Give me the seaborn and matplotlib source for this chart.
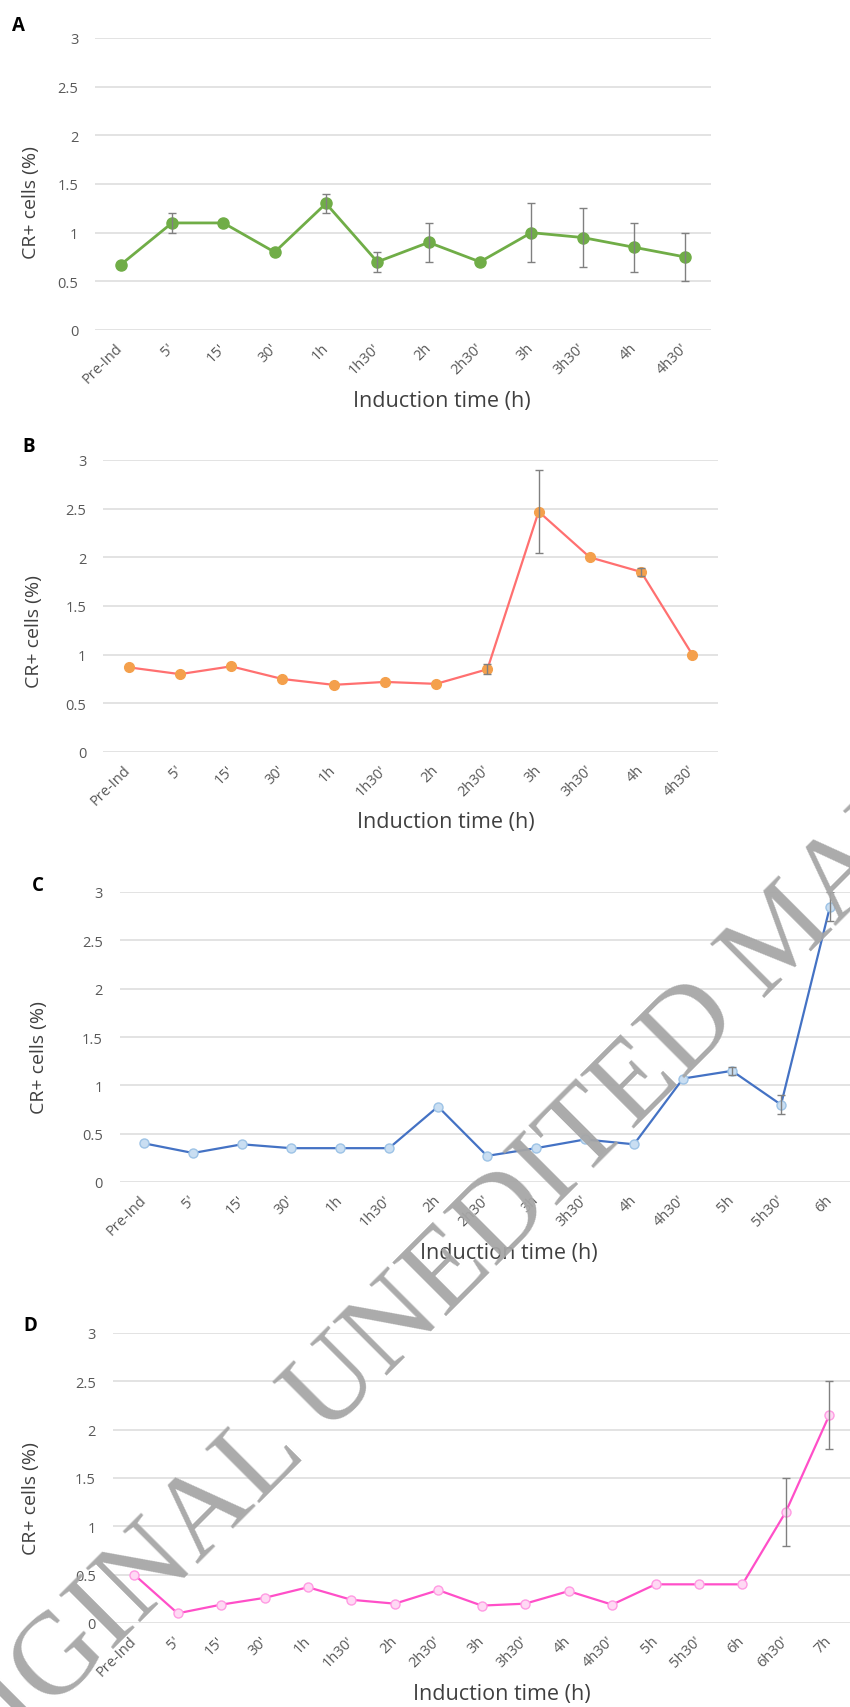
import numpy as np
import pandas as pd
import seaborn as sns
import matplotlib.pyplot as plt

# figure size in pixels (dpi 100)
W, H = 850, 1708

# ---- data ----
labels_a = ["Pre-Ind", "5'", "15'", "30'", "1h", "1h30'", "2h", "2h30'", "3h", "3h30'", "4h", "4h30'"]
values_a = [0.67, 1.10, 1.10, 0.80, 1.30, 0.70, 0.90, 0.70, 1.00, 0.95, 0.85, 0.75]
errors_a = [0, 0.10, 0, 0, 0.10, 0.10, 0.20, 0, 0.30, 0.30, 0.25, 0.25]

labels_b = labels_a
values_b = [0.87, 0.80, 0.88, 0.75, 0.69, 0.72, 0.70, 0.85, 2.47, 2.00, 1.85, 1.00]
errors_b = [0, 0, 0, 0, 0, 0, 0, 0.05, 0.43, 0, 0.04, 0]

labels_c = labels_a + ["5h", "5h30'", "6h"]
values_c = [0.40, 0.30, 0.39, 0.35, 0.35, 0.35, 0.78, 0.27, 0.35, 0.44, 0.39, 1.07, 1.15, 0.80, 2.85]
errors_c = [0, 0, 0, 0, 0, 0, 0, 0, 0, 0, 0, 0, 0.04, 0.10, 0.15]

labels_d = labels_c + ["6h30'", "7h"]
values_d = [0.50, 0.10, 0.19, 0.26, 0.37, 0.24, 0.20, 0.34, 0.18, 0.20, 0.33, 0.19, 0.40, 0.40, 0.40, 1.15, 2.15]
errors_d = [0, 0, 0, 0, 0, 0, 0, 0, 0, 0, 0, 0, 0, 0, 0, 0.35, 0.35]

ytick_values = [0, 0.5, 1, 1.5, 2, 2.5, 3]
ytick_labels = ["0", "0.5", "1", "1.5", "2", "2.5", "3"]

x_title = "Induction time (h)"
y_title = "CR+ cells (%)"
watermark = "ORIGINAL UNEDITED MANUSCRIPT"

sns.set_theme(style="white")
plt.rcParams["font.family"] = ["Open Sans", "DejaVu Sans"]

TICK_GREY = "#595959"
LABEL_GREY = "#404040"


def add_axes_px(fig, left, top, right, bottom):
    return fig.add_axes([left / W, 1 - bottom / H, (right - left) / W, (bottom - top) / H])


def draw_panel(ax, rect, letter, letter_xy, xlab_xy, ylab_xy,
               labels, values, errors, line_color, face, edge, msize, lw):
    left, top, right, bottom = rect
    df = pd.DataFrame({"time": labels, "value": values})
    sns.lineplot(data=df, x="time", y="value", ax=ax, sort=False,
                 color=line_color, linewidth=lw, marker="o", markersize=msize,
                 markerfacecolor=face, markeredgecolor=edge, markeredgewidth=1,
                 zorder=3)

    # error bars only where there is one
    err_x = [l for l, e in zip(labels, errors) if e > 0]
    err_y = [v for v, e in zip(values, errors) if e > 0]
    err_e = [e for e in errors if e > 0]
    ax.errorbar(err_x, err_y, yerr=err_e, fmt="none", ecolor="#808080",
                elinewidth=1.0, capsize=3, capthick=1.0, zorder=4)

    ax.set_xlim(-0.5, len(labels) - 0.5)
    ax.set_ylim(0, 3)
    ax.set_yticks(ytick_values)
    ax.set_yticklabels(ytick_labels)
    ax.yaxis.grid(True, color="#e3e3e3", linewidth=1.4)
    ax.xaxis.grid(False)
    for s in ax.spines.values():
        s.set_visible(False)
    ax.tick_params(axis="y", length=0, pad=12, labelsize=10.5, labelcolor=TICK_GREY)
    ax.tick_params(axis="x", length=0, pad=11, labelsize=10.5, labelcolor=TICK_GREY)
    for t in ax.get_xticklabels():
        t.set_rotation(45)
        t.set_ha("right")
        t.set_va("center")
        t.set_rotation_mode("anchor")

    wpx, hpx = right - left, bottom - top
    ax.set_xlabel(x_title, fontsize=15.5, color=LABEL_GREY)
    ax.xaxis.set_label_coords((xlab_xy[0] - left) / wpx, (bottom - xlab_xy[1]) / hpx)
    ax.xaxis.label.set_va("center")
    ax.set_ylabel(y_title, fontsize=14, color=LABEL_GREY)
    ax.yaxis.set_label_coords((ylab_xy[0] - left) / wpx, (bottom - ylab_xy[1]) / hpx)
    ax.yaxis.label.set_va("center")

    fig.text(letter_xy[0] / W, 1 - letter_xy[1] / H, letter, fontsize=13.5,
             fontweight="bold", color="black", ha="center", va="center")


fig = plt.figure(figsize=(W / 100, H / 100), dpi=100)

rect_a = (95, 39, 711, 331)
rect_b = (103, 461, 718, 753)
rect_c = (119.5, 893, 854.5, 1183)
rect_d = (112.5, 1334, 851, 1624)

ax_a = add_axes_px(fig, *rect_a)
draw_panel(ax_a, rect_a, "A", (18, 26), (442, 402), (31, 203),
           labels_a, values_a, errors_a, "#70ad47", "#70ad47", "#70ad47", 8, 2.0)

ax_b = add_axes_px(fig, *rect_b)
draw_panel(ax_b, rect_b, "B", (29, 447), (446, 823), (34, 632),
           labels_b, values_b, errors_b, "#ff7070", "#f4a04c", "#f4a04c", 7, 1.6)

ax_c = add_axes_px(fig, *rect_c)
draw_panel(ax_c, rect_c, "C", (38, 886), (509, 1253), (39, 1058),
           labels_c, values_c, errors_c, "#4472c4", "#c9def2", "#9dc3e6", 6.5, 1.6)

ax_d = add_axes_px(fig, *rect_d)
draw_panel(ax_d, rect_d, "D", (30, 1326), (502, 1695), (31, 1499),
           labels_d, values_d, errors_d, "#ff4fc8", "#ffd9f4", "#ff9be3", 6.5, 1.6)

# diagonal watermark over the whole page
fig.text(582 / W, 1 - 1141 / H, watermark, rotation=45, rotation_mode="anchor",
         ha="center", va="center", fontsize=84, family="Liberation Serif",
         color="#a6a6a6", alpha=0.95, zorder=10)

fig.savefig("out.png", dpi=100)
